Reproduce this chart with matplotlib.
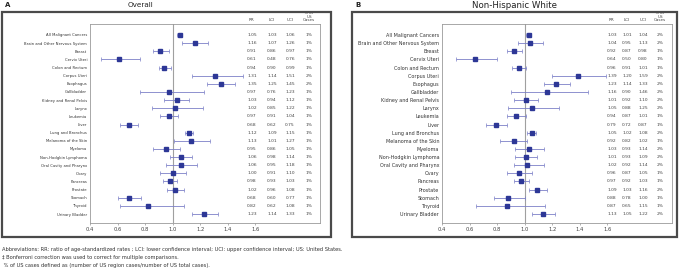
import matplotlib
matplotlib.use("Agg")
import matplotlib.pyplot as plt
from matplotlib.patches import Rectangle
import matplotlib.transforms as mtransforms

W, H = 680, 274

sites = ["All Malignant Cancers", "Brain and Other Nervous System", "Breast", "Cervix Uteri",
         "Colon and Rectum", "Corpus Uteri", "Esophagus", "Gallbladder", "Kidney and Renal Pelvis",
         "Larynx", "Leukemia", "Liver", "Lung and Bronchus", "Melanoma of the Skin", "Myeloma",
         "Non-Hodgkin Lymphoma", "Oral Cavity and Pharynx", "Ovary", "Pancreas", "Prostate",
         "Stomach", "Thyroid", "Urinary Bladder"]

# Panel A - Overall
rr_a = [1.05, 1.16, 0.91, 0.61, 0.94, 1.31, 1.35, 0.97, 1.03, 1.02, 0.97, 0.68, 1.12,
        1.13, 0.95, 1.06, 1.06, 1.00, 0.98, 1.02, 0.68, 0.82, 1.23]
lci_a = [1.03, 1.07, 0.86, 0.48, 0.90, 1.14, 1.25, 0.76, 0.94, 0.85, 0.91, 0.62, 1.09,
         1.01, 0.86, 0.98, 0.95, 0.91, 0.93, 0.96, 0.60, 0.62, 1.14]
uci_a = [1.06, 1.26, 0.97, 0.76, 0.99, 1.51, 1.45, 1.23, 1.12, 1.22, 1.04, 0.75, 1.15,
         1.27, 1.05, 1.14, 1.18, 1.10, 1.03, 1.08, 0.77, 1.08, 1.33]
pct_a = ["1%", "1%", "1%", "1%", "1%", "2%", "2%", "1%", "1%", "1%", "1%", "1%", "1%",
         "1%", "1%", "1%", "1%", "1%", "1%", "1%", "1%", "1%", "1%"]

# Panel B - Non-Hispanic White
rr_b = [1.03, 1.04, 0.92, 0.64, 0.96, 1.39, 1.23, 1.16, 1.01, 1.05, 0.94, 0.79, 1.05,
        0.92, 1.03, 1.01, 1.02, 0.96, 0.97, 1.09, 0.88, 0.87, 1.13]
lci_b = [1.01, 0.95, 0.87, 0.50, 0.91, 1.20, 1.14, 0.90, 0.92, 0.88, 0.87, 0.72, 1.02,
         0.82, 0.93, 0.93, 0.92, 0.87, 0.92, 1.03, 0.78, 0.65, 1.05]
uci_b = [1.04, 1.13, 0.98, 0.80, 1.01, 1.59, 1.33, 1.46, 1.10, 1.25, 1.01, 0.87, 1.08,
         1.02, 1.14, 1.09, 1.14, 1.05, 1.03, 1.16, 1.00, 1.15, 1.22]
pct_b = ["2%", "2%", "1%", "1%", "1%", "2%", "2%", "2%", "2%", "2%", "1%", "1%", "2%",
         "1%", "2%", "2%", "2%", "1%", "1%", "2%", "1%", "1%", "2%"]

ticks = [0.4, 0.6, 0.8, 1.0, 1.2, 1.4, 1.6]

footnotes = [
    "Abbreviations: RR: ratio of age-standardized rates ; LCI: lower confidence interval; "
    "UCI: upper confidence interval; US: United States.",
    "\u2021 Bonferroni correction was used to correct for multiple comparisons.",
    " % of US cases defined as (number of US region cases/number of US total cases).",
]


def px_rect(x0, y0, x1, y1):
    return [x0 / W, 1 - y1 / H, (x1 - x0) / W, (y1 - y0) / H]


fig = plt.figure(figsize=(W / 100, H / 100), dpi=100)
fig.patch.set_facecolor("white")


def panel(letter, title, title_x, title_fs, frame, box, rr, lci, uci, pct, cols, label_fs):
    fx0, fy0, fx1, fy1 = frame
    fig.patches.append(Rectangle((fx0 / W, 1 - fy1 / H), (fx1 - fx0) / W, (fy1 - fy0) / H,
                                 transform=fig.transFigure, fill=False,
                                 edgecolor="#4a4a4a", linewidth=1.6))
    fig.text(fx0 / W + 3 / W, 1 - 5 / H, letter, fontsize=5, fontweight="bold",
             ha="left", va="center", color="#222222")
    fig.text(title_x / W, 1 - 5 / H, title, fontsize=title_fs, ha="center", va="center",
             color="#222222")

    ax = fig.add_axes(px_rect(*box))
    n = len(sites)
    ys = list(range(n))
    err = [[r - l for r, l in zip(rr, lci)], [u - r for r, u in zip(rr, uci)]]
    ax.axvline(1.0, color="#a0a0a0", lw=0.8, zorder=1)
    ax.errorbar(rr, ys, xerr=err, fmt="none", ecolor="#7c80c8", elinewidth=0.6,
                capsize=1.3, capthick=0.5, zorder=2)
    ax.plot(rr, ys, "s", color="#2d3796", markersize=2.4, zorder=3)
    ax.set_xlim(0.42, 2.07)
    ax.set_ylim(n - 1 + 1.1, -1.35)
    ax.set_xticks(ticks)
    ax.set_xticklabels([f"{t:.1f}" for t in ticks], fontsize=3.8)
    ax.tick_params(axis="x", length=1.5, width=0.4, pad=1.5, colors="#777777",
                   labelcolor="#444444")
    ax.set_yticks(ys)
    ax.set_yticklabels(sites, fontsize=label_fs, color="#333333")
    ax.tick_params(axis="y", length=0, pad=2)
    for s in ax.spines.values():
        s.set_color("#9a9a9a")
        s.set_linewidth(0.6)

    trans = mtransforms.blended_transform_factory(ax.transAxes, ax.transData)
    for i in ys:
        for cx, val in zip(cols, [f"{rr[i]:.2f}", f"{lci[i]:.2f}", f"{uci[i]:.2f}", pct[i]]):
            ax.text(cx, i, val, transform=trans, fontsize=3.2, ha="center", va="center",
                    color="#444444")
    head = ["RR", "LCI", "UCI", "% of\nUS\nCases"]
    for cx, h in zip(cols, head):
        ax.text(cx, 1.008, h, transform=ax.transAxes, fontsize=3.0, ha="center",
                va="bottom", color="#444444", linespacing=0.95)
    return ax


panel("A", "Overall", 140, 5.2, (2, 12, 331, 237), (90, 24, 320, 223),
      rr_a, lci_a, uci_a, pct_a, [0.704, 0.791, 0.870, 0.952], 2.7)
panel("B", "Non-Hispanic White", 514, 6.2, (352, 12, 677, 237), (442, 24, 672, 223),
      rr_b, lci_b, uci_b, pct_b, [0.739, 0.804, 0.874, 0.948], 3.5)

for k, line in enumerate(footnotes):
    fig.text(2 / W, 1 - (249 + 8 * k) / H, line, fontsize=3.7, ha="left", va="center",
             color="#333333")

fig.savefig("out.png", dpi=100)
